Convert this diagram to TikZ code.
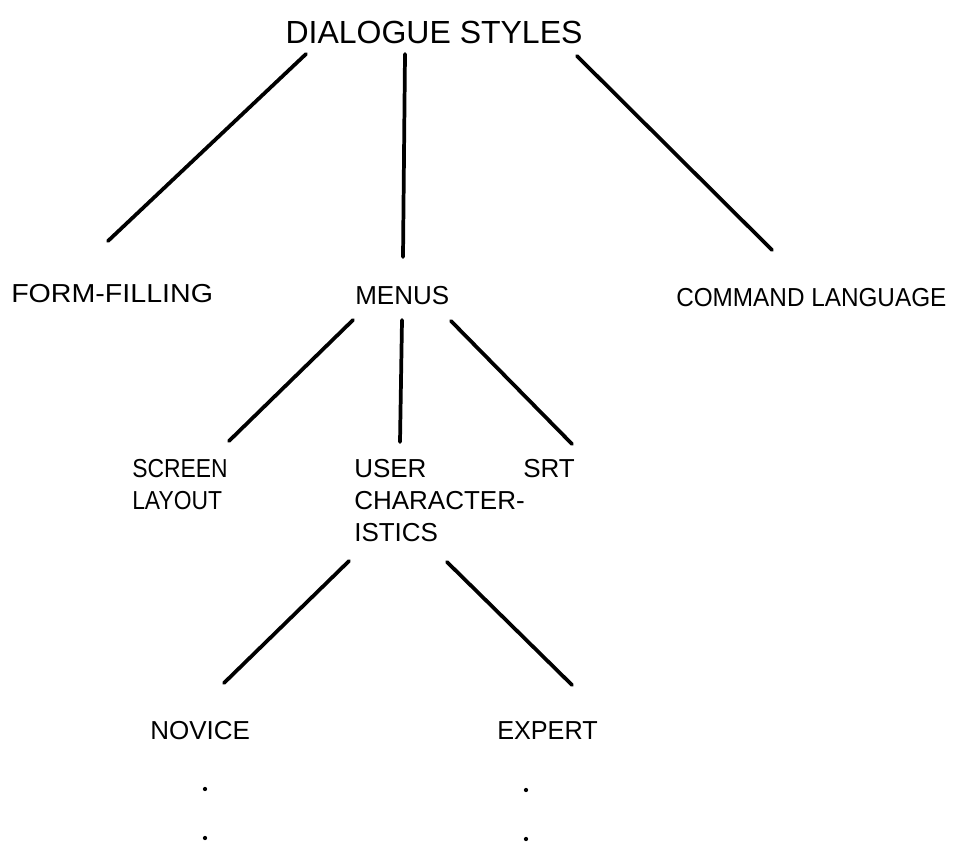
\documentclass[tikz,border=0pt]{standalone}
\usepackage{fontspec}
\usepackage{graphicx}
\newfontfamily\lblfont{Liberation Sans}
% horizontal squeeze/stretch of a label
\newcommand{\hsq}[2]{\scalebox{#1}[1]{#2}}
\begin{document}
\begin{tikzpicture}[x=0.75pt,y=-0.75pt,
  lbl/.style={font=\lblfont\fontsize{19.5}{24}\selectfont, inner sep=0pt, align=left, anchor=north west},
  ttl/.style={font=\lblfont\fontsize{24}{28}\selectfont, inner sep=0pt, anchor=north},
  branch/.style={line width=2.8pt, line cap=round},
  dotmark/.style={circle, fill=black, inner sep=0pt, minimum size=3.2pt}]
\useasboundingbox (0,0) rectangle (959,842);

% labels
\node[ttl] (root) at (434,21) {DIALOGUE STYLES};
\node[lbl] (form) at (11,284) {\hsq{1.1}{FORM-FILLING}};
\node[lbl] (menus) at (355,286) {MENUS};
\node[lbl] (cmd) at (676,288) {\hsq{0.935}{COMMAND LANGUAGE}};
\node[lbl] (screen) at (132,459) {\hsq{0.88}{SCREEN}\\\hsq{0.88}{LAYOUT}};
\node[lbl] (user) at (354,459) {USER\\CHARACTER-\\ISTICS};
\node[lbl] (srt) at (523,459) {SRT};
\node[lbl] (novice) at (150,721) {NOVICE};
\node[lbl] (expert) at (497,721) {\hsq{0.97}{EXPERT}};

% continuation dots
\node[dotmark] (nd1) at (205,789) {};
\node[dotmark] (nd2) at (205,838) {};
\node[dotmark] (ed1) at (526,790) {};
\node[dotmark] (ed2) at (526,839) {};

% branch end points
\coordinate (r1) at (306,54);  \coordinate (f0) at (108,241);
\coordinate (r2) at (405,54);  \coordinate (m0) at (403,257);
\coordinate (r3) at (577,56);  \coordinate (c0) at (772,250);
\coordinate (m1) at (353,320); \coordinate (s0) at (229,441);
\coordinate (m2) at (402,320); \coordinate (u0) at (400,442);
\coordinate (m3) at (451,321); \coordinate (t0) at (572,444);
\coordinate (u1) at (349,561); \coordinate (n0) at (224,683);
\coordinate (u2) at (447,562); \coordinate (e0) at (572,685);

% branches
\draw[branch] (r1) -- (f0);
\draw[branch] (r2) -- (m0);
\draw[branch] (r3) -- (c0);
\draw[branch] (m1) -- (s0);
\draw[branch] (m2) -- (u0);
\draw[branch] (m3) -- (t0);
\draw[branch] (u1) -- (n0);
\draw[branch] (u2) -- (e0);
\end{tikzpicture}
\end{document}
